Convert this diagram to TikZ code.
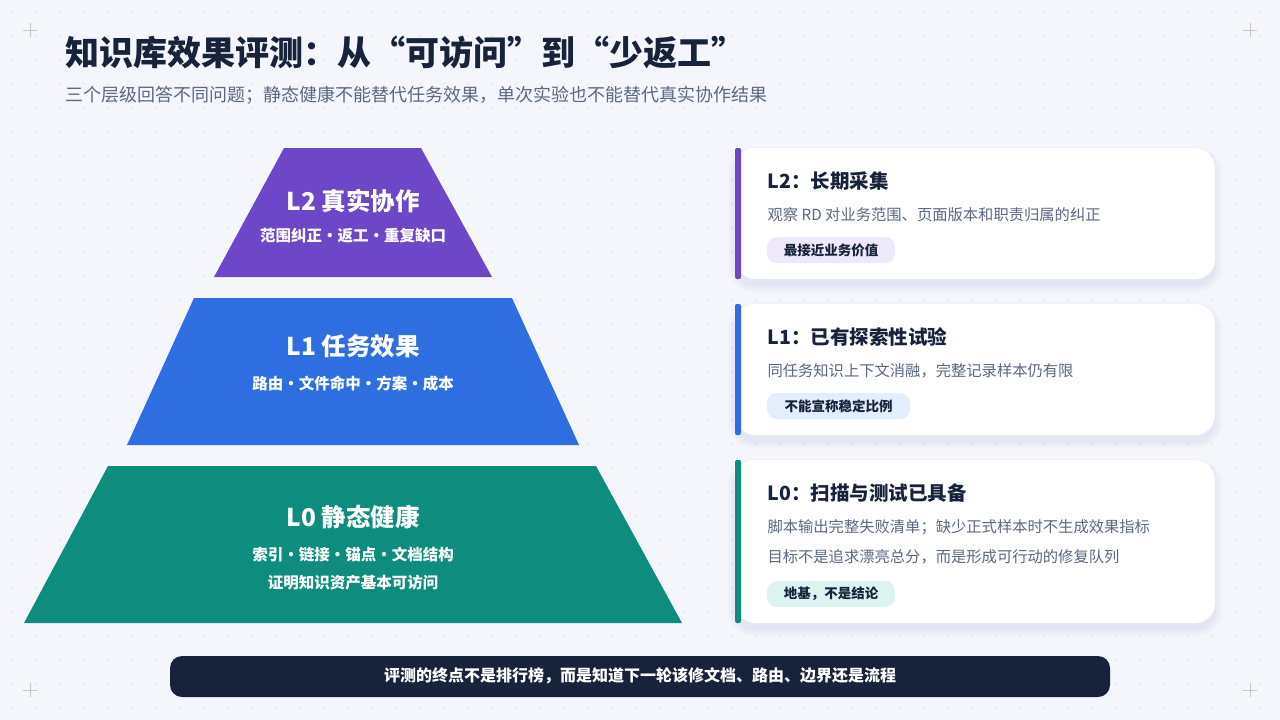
\documentclass[tikz,border=0pt]{standalone}
\usepackage{fontspec}
\setmainfont{Noto Sans CJK SC}
\definecolor{bg}{HTML}{F5F6FB}
\definecolor{ink}{HTML}{17233A}
\definecolor{gry}{HTML}{5A6880}
\definecolor{pur}{HTML}{6E46C8}
\definecolor{blu}{HTML}{2E6EE0}
\definecolor{tea}{HTML}{0E8C7E}
\definecolor{pp}{HTML}{EEE8FB}
\definecolor{pb}{HTML}{E3EEFD}
\definecolor{pt}{HTML}{DDF3F0}
\definecolor{shd}{HTML}{7080B0}
\newcommand{\dt}{·}
\begin{document}
\begin{tikzpicture}[x=1pt,y=-1pt,
  lvl/.style={font=\bfseries\fontsize{24.5}{28}\selectfont,text=white},
  lsub/.style={font=\bfseries\fontsize{15.5}{18}\selectfont,text=white},
  ctitle/.style={anchor=west,font=\bfseries\fontsize{19.5}{23}\selectfont,text=ink},
  cbody/.style={anchor=west,font=\fontsize{15.3}{18}\selectfont,text=gry},
  pill/.style={rounded corners=10pt,font=\bfseries\fontsize{13.5}{16}\selectfont,text=ink,inner sep=0pt}]
\fill[bg] (0,0) rectangle (1280,720);
\useasboundingbox (0,0) rectangle (1280,720);
\foreach \i in {0,...,53}{\foreach \j in {0,...,30}{\fill[gray!25] (\i*24+12,\j*24+12) circle (0.8);}}
\foreach \p in {(30,30),(1250,30),(30,690),(1250,690)}{\draw[gray!45,line width=1] \p ++(-7,0) -- ++(14,0) \p ++(0,-7) -- ++(0,14);}
\node[anchor=west,font=\bfseries\fontsize{34}{40}\selectfont,text=ink] (title) at (62,53) {知识库效果评测：从“可访问”到“少返工”};
\node[anchor=west,font=\fontsize{18}{21}\selectfont,text=gry] (sub) at (62,95) {三个层级回答不同问题；静态健康不能替代任务效果，单次实验也不能替代真实协作结果};
% pyramid
\fill[pur] (284,148) -- (421,148) -- (492,277) -- (214,277) -- cycle;
\fill[blu] (194,298) -- (512,298) -- (579,445) -- (127,445) -- cycle;
\fill[tea] (108,466) -- (596,466) -- (682,623) -- (24,623) -- cycle;
\node[lvl] (t2) at (353,201) {L2 真实协作};
\node[lsub] (s2) at (353,236) {范围纠正\dt 返工\dt 重复缺口};
\node[lvl] (t1) at (353,346) {L1 任务效果};
\node[lsub] (s1) at (353,384) {路由\dt 文件命中\dt 方案\dt 成本};
\node[lvl] (t0) at (353,517) {L0 静态健康};
\node[lsub] (s0) at (353,555) {索引\dt 链接\dt 锚点\dt 文档结构};
\node[lsub] (s0b) at (353,583) {证明知识资产基本可访问};
% cards with soft shadows
\foreach \ya/\yb in {148/279,304/435,460/623}{
  \foreach \k in {1,...,8}{\fill[shd,opacity=0.012,rounded corners=20pt+\k pt] (735-\k,\ya-\k+6) rectangle (1215+\k,\yb+\k+6);}
  \fill[white,rounded corners=20pt] (735,\ya) rectangle (1215,\yb);
}
\fill[pur,rounded corners=2pt] (735,148) rectangle (741,279);
\fill[blu,rounded corners=2pt] (735,304) rectangle (741,435);
\fill[tea,rounded corners=2pt] (735,460) rectangle (741,623);
\node[ctitle] (c2) at (764,181) {L2：长期采集};
\node[cbody] (b2) at (764,215) {观察 RD 对业务范围、页面版本和职责归属的纠正};
\node[pill,fill=pp,minimum width=128,minimum height=26] (p2) at (831,250) {最接近业务价值};
\node[ctitle] (c1) at (764,337) {L1：已有探索性试验};
\node[cbody] (b1) at (764,371) {同任务知识上下文消融，完整记录样本仍有限};
\node[pill,fill=pb,minimum width=143,minimum height=26] (p1) at (838.5,406) {不能宣称稳定比例};
\node[ctitle] (c0) at (764,493) {L0：扫描与测试已具备};
\node[cbody] (b0) at (764,527) {脚本输出完整失败清单；缺少正式样本时不生成效果指标};
\node[cbody] (b0b) at (764,557) {目标不是追求漂亮总分，而是形成可行动的修复队列};
\node[pill,fill=pt,minimum width=128,minimum height=26] (p0) at (831,594) {地基，不是结论};
% bottom bar
\fill[ink,rounded corners=12pt] (170,656) rectangle (1110,697);
\node[font=\bfseries\fontsize{16}{19}\selectfont,text=white] (foot) at (640,676) {评测的终点不是排行榜，而是知道下一轮该修文档、路由、边界还是流程};
\end{tikzpicture}
\end{document}
